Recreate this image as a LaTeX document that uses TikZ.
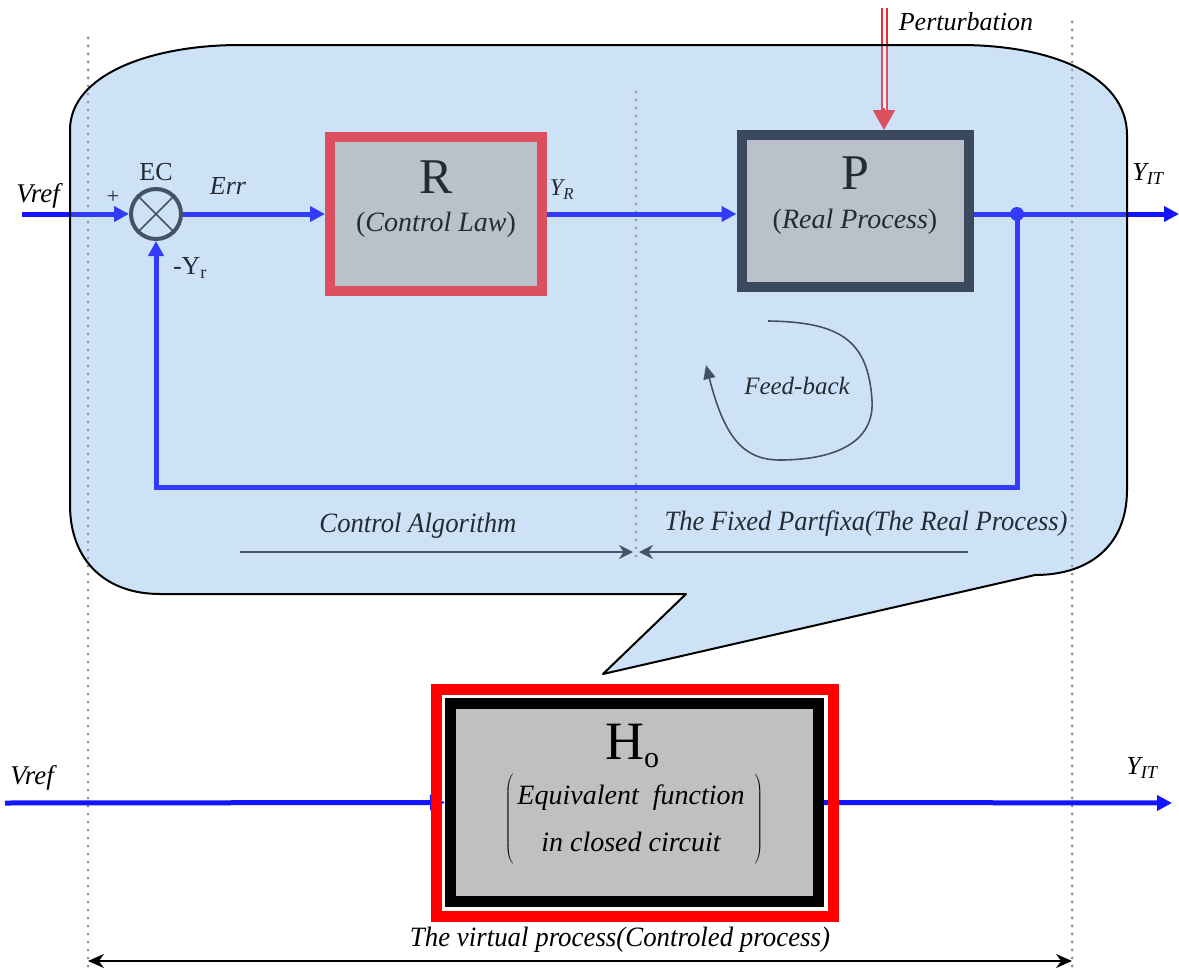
\documentclass[tikz,border=0pt]{standalone}
\usepackage{fontspec}
\setmainfont{LiberationSerif}[Extension=.ttf,UprightFont=*-Regular,ItalicFont=*-Italic,BoldFont=*-Bold,BoldItalicFont=*-BoldItalic]
\usepackage{graphicx}
\usetikzlibrary{arrows.meta,positioning,calc}
\definecolor{sigblue}{RGB}{20,20,255}
\definecolor{lawred}{RGB}{235,45,55}
\definecolor{procdark}{RGB}{28,38,52}
\definecolor{bubblefill}{RGB}{218,234,250}
\definecolor{bubbletint}{RGB}{165,200,240}
\definecolor{boxgray}{RGB}{192,192,192}
\definecolor{dotgray}{RGB}{140,140,140}
\definecolor{inkdark}{RGB}{40,50,65}
\newcommand\bubbleoutline{(70,130) .. controls (70,75) and (150,45) .. (240,45) -- (960,45)
  .. controls (1050,45) and (1127,75) .. (1127,135) -- (1127,490)
  .. controls (1127,545) and (1090,575) .. (1035,575) -- (603,674) -- (686,594) -- (160,594)
  .. controls (105,594) and (70,560) .. (70,505) -- cycle}

\begin{document}
\begin{tikzpicture}[x=1pt,y=-1pt,
    sig/.style={sigblue,line width=5pt,-{Triangle[width=15pt,length=15pt]}},
    itlbl/.style={inner sep=0pt,font=\fontsize{#1pt}{#1pt}\selectfont\itshape},
    uplbl/.style={inner sep=0pt,font=\fontsize{#1pt}{#1pt}\selectfont},
    guide/.style={dotgray,line width=3pt,line cap=round,dash pattern=on 0pt off 8pt},
    span/.style={inkdark,line width=1.5pt,-{Stealth[width=14pt,length=14pt]}}]
    \useasboundingbox (0,0) rectangle (1179,969);

    % Bubble background
    \fill[bubblefill] \bubbleoutline;

    % Guides
    \draw[guide] (88,38) -- (88,969);
    \draw[guide] (1072,22) -- (1072,969);
    \draw[guide] (636,92) -- (636,560);

    % Loop blocks
    \node[circle,draw=inkdark,line width=4pt,minimum size=50pt,inner sep=0pt] (ec) at (156,214) {};
    \draw[inkdark,line width=1.5pt,shorten <=2pt,shorten >=2pt] (ec.north west) -- (ec.south east) (ec.north east) -- (ec.south west);
    \node[draw=lawred,line width=10pt,fill=boxgray,minimum width=212pt,minimum height=154pt,inner sep=0pt] (law) at (436,214) {};
    \node[draw=procdark,line width=10pt,fill=boxgray,minimum width=227pt,minimum height=152pt,inner sep=0pt] (proc) at (855,211) {};
    \node[uplbl=50] (lawname) at (436,177) {R};
    \node[uplbl=28] (lawdesc) at (436,225) {(\textit{Control Law})};
    \node[uplbl=50] (procname) at (855,173) {P};
    \node[uplbl=28] (procdesc) at (855,222) {(\textit{Real Process})};

    % Labels
    \node[itlbl=27] (vref) at (38,196) {Vref};
    \node[uplbl=26] (eclbl) at (156,172) {EC};
    \node[uplbl=22] (plus) at (113,197) {+};
    \node[itlbl=26] (errlbl) at (228,186) {Err};
    \node[uplbl=26] (fblbl) at (190,268) {-Y\textsubscript{r}};
    \node[itlbl=24] (yrlbl) at (562,190) {Y\textsubscript{R}};
    \node[itlbl=26] (yitlbl) at (1148,174) {Y\textsubscript{IT}};
    \node[itlbl=26] (pertlbl) at (966,22) {Perturbation};

    % Signals
    \coordinate (vrefin) at (22,214);
    \coordinate (yout) at (1179,214);
    \coordinate (junc) at (1017,214);
    \coordinate (fbturn) at (156,487);
    \coordinate (pertin) at (884,8);
    \draw[sig] (vrefin) -- (ec.west);
    \draw[sig] (ec.east) -- (law.west);
    \draw[sig] (law.east) -- (law.east -| proc.west);
    \draw[sig] (proc.east |- junc) -- (yout);
    \draw[sig] (junc) |- (fbturn) -- (ec.south);
    \fill[sigblue] (junc) circle[radius=7pt];
    \draw[lawred,line width=2pt,double=white,double distance=3pt] (pertin) -- ($(pertin |- proc.north)+(0,-20)$);
    \draw[lawred,line width=2pt,-{Triangle[width=22pt,length=20pt]}] ($(pertin |- proc.north)+(0,-22)$) -- (pertin |- proc.north);

    % Feed-back loop sketch
    \coordinate (fbstart) at (768,321);
    \coordinate (fbend) at (706,365);
    \draw[inkdark,line width=1.6pt,-{Triangle[width=12pt,length=14pt]}] (fbstart) .. controls (840,322) and (868,340) .. (872,400)
      .. controls (875,445) and (830,460) .. (780,460) .. controls (745,460) and (725,440) .. (fbend);
    \node[itlbl=25] (fbtext) at (797,386) {Feed-back};

    % Parts
    \node[itlbl=28] (alglbl) at (418,526) {\resizebox{197pt}{\height}{Control Algorithm}};
    \node[itlbl=28] (fixlbl) at (866,524) {\resizebox{403pt}{\height}{The Fixed Partfixa(The Real Process)}};
    \coordinate (algL) at (240,552);
    \coordinate (algR) at (633,552);
    \coordinate (fixR) at (968,552);
    \coordinate (fixL) at (639,552);
    \draw[span] (algL) -- (algR);
    \draw[span] (fixR) -- (fixL);

    % Bubble tint and outline
    \fill[bubbletint,opacity=0.22] \bubbleoutline;
    \draw[black,line width=2pt,line join=round] \bubbleoutline;

    % Equivalent block
    \node[draw=black,line width=11pt,fill=boxgray,minimum width=368pt,minimum height=198pt,inner sep=0pt] (hzero) at (634.5,802.5) {};
    \node[uplbl=54,anchor=base] (hname) at (632,759) {H\raisebox{-8pt}{\fontsize{30pt}{30pt}\selectfont o}};
    \node[inner sep=0pt,font=\fontsize{28pt}{47pt}\selectfont] (hdesc) at (634,819)
      {$\left(\begin{tabular}{@{\hspace{4pt}}c@{\hspace{10pt}}}\itshape Equivalent\ \ function\\ \itshape in closed circuit\end{tabular}\right)$};
    \coordinate (vrefb) at (5,803);
    \coordinate (youtb) at (1172,803);
    \draw[sig] (vrefb) -- (hzero.west);
    \draw[sig] (hzero.east) -- (youtb);
    \draw[red,line width=11pt] ($(hzero.south west)+(-9,9)$) rectangle ($(hzero.north east)+(9,-9)$);
    \node[itlbl=27] (vrefbl) at (32,778) {Vref};
    \node[itlbl=26] (yitbl) at (1142,768) {Y\textsubscript{IT}};

    % Virtual process
    \coordinate (vpL) at (88,961);
    \coordinate (vpR) at (1072,961);
    \draw[black,line width=2pt,{Stealth[width=14pt,length=16pt]}-{Stealth[width=14pt,length=16pt]}] (vpL) -- (vpR);
    \node[itlbl=28] (vplbl) at (620,940) {\resizebox{420pt}{\height}{The virtual process(Controled process)}};
\end{tikzpicture}
\end{document}
